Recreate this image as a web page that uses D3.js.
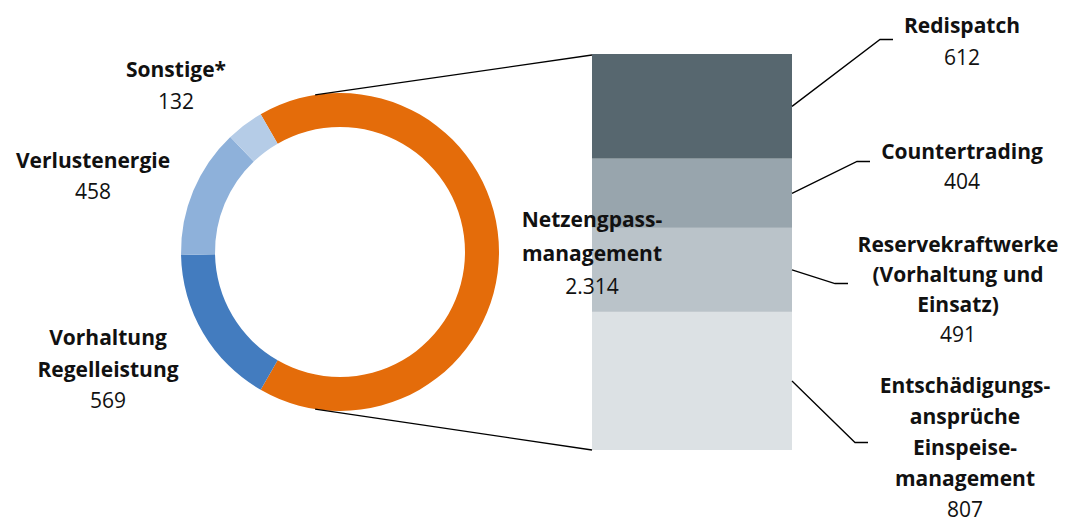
<!DOCTYPE html>
<html><head><meta charset="utf-8">
<script src="https://cdn.jsdelivr.net/npm/d3@7"></script>
<style>
html,body{margin:0;padding:0;background:#fff;}
svg text{font-family:"Open Sans","Noto Sans",sans-serif;fill:#111;}
</style></head>
<body>
<svg id="chart" width="1073" height="521"></svg>
<script>
// ---- data ----
const donutCategories = ["Netzengpassmanagement", "Vorhaltung Regelleistung", "Verlustenergie", "Sonstige*"];
const donutValues = [2314, 569, 458, 132];
const donutValueLabels = ["2.314", "569", "458", "132"];
const donutLabelLines = [["Netzengpass-", "management"], ["Vorhaltung", "Regelleistung"], ["Verlustenergie"], ["Sonstige*"]];
const donutColors = ["#e46c0a", "#437cbf", "#8eb1da", "#b5cce7"];

const barCategories = ["Redispatch", "Countertrading", "Reservekraftwerke (Vorhaltung und Einsatz)", "Entschädigungsansprüche Einspeisemanagement"];
const barValues = [612, 404, 491, 807];
const barValueLabels = ["612", "404", "491", "807"];
const barLabelLines = [["Redispatch"], ["Countertrading"], ["Reservekraftwerke", "(Vorhaltung und", "Einsatz)"], ["Entschädigungs-", "ansprüche", "Einspeise-", "management"]];
const barColors = ["#57676f", "#98a5ad", "#bac3c9", "#dce1e4"];

// ---- layout ----
const svg = d3.select("#chart");
const cx = 340, cy = 252, rOuter = 159, rInner = 125;
const total = d3.sum(donutValues);
const first = donutValues[0] / total * 2 * Math.PI;
const start = Math.PI / 2 - first / 2;
const pie = d3.pie().sort(null).value(d => d).startAngle(start).endAngle(start + 2 * Math.PI);
const arcs = pie(donutValues);
const arc = d3.arc().innerRadius(rInner).outerRadius(rOuter);
const g = svg.append("g").attr("transform", `translate(${cx},${cy})`);
g.selectAll("path").data(arcs).join("path")
  .attr("d", arc).attr("fill", (d, i) => donutColors[i]);

// bar
const barX = 592, barW = 200, barTop = 54, barBottom = 450;
const y = d3.scaleLinear().domain([0, d3.sum(barValues)]).range([barTop, barBottom]);
const cum = d3.cumsum([0, ...barValues]);
const segs = barValues.map((v, i) => ({ v, y0: cum[i], y1: cum[i + 1], i }));
svg.selectAll("rect.seg").data(segs).join("rect").attr("class", "seg")
  .attr("x", barX).attr("width", barW)
  .attr("y", d => y(d.y0)).attr("height", d => y(d.y1) - y(d.y0))
  .attr("fill", d => barColors[d.i]);

// connector lines donut -> bar
const connAng = 99 * Math.PI / 180;
const pTop = [cx + rOuter * Math.cos(-connAng), cy + rOuter * Math.sin(-connAng)];
const pBot = [cx + rOuter * Math.cos(connAng), cy + rOuter * Math.sin(connAng)];
svg.append("line").attr("x1", pTop[0]).attr("y1", pTop[1]).attr("x2", barX).attr("y2", y(0) + 1)
  .attr("stroke", "#000").attr("stroke-width", 1.3);
svg.append("line").attr("x1", pBot[0]).attr("y1", pBot[1]).attr("x2", barX).attr("y2", y(cum[cum.length - 1]))
  .attr("stroke", "#000").attr("stroke-width", 1.3);

// bar label leader lines
const elbows = [[880, 39.5], [857, 161.5], [835, 283.5], [855, 442.5]];
const line = d3.line();
segs.forEach((d, i) => {
  const ym = (y(d.y0) + y(d.y1)) / 2;
  svg.append("path").attr("d", line([[barX + barW, ym], elbows[i], [elbows[i][0] + 13, elbows[i][1]]]))
    .attr("fill", "none").attr("stroke", "#000").attr("stroke-width", 1.3);
});

// labels
const fs = 21;
function label(x, yb, lines, value, lh) {
  const t = svg.append("text").attr("text-anchor", "middle").attr("font-size", fs);
  lines.forEach((s, k) => t.append("tspan").attr("x", x).attr("y", yb + k * lh).attr("font-weight", "bold").text(s));
  t.append("tspan").attr("x", x).attr("y", yb + lines.length * lh).attr("font-weight", "normal").text(value);
}
const donutLabelPos = [[592, 227, 33.5], [108, 345, 31.5], [93, 168, 31], [176, 77, 32]];
donutLabelLines.forEach((l, i) => label(donutLabelPos[i][0], donutLabelPos[i][1], l, donutValueLabels[i], donutLabelPos[i][2]));
const barLabelPos = [[962, 33, 32], [962, 159, 30], [958, 252, 30], [965, 393, 31]];
barLabelLines.forEach((l, i) => label(barLabelPos[i][0], barLabelPos[i][1], l, barValueLabels[i], barLabelPos[i][2]));
</script>
</body></html>
